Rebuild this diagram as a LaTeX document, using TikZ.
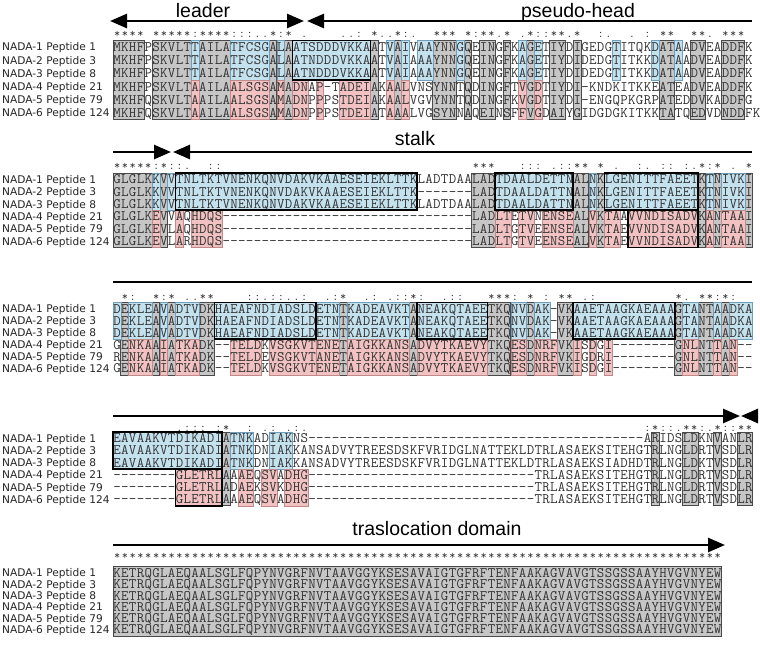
\documentclass[tikz,border=0pt]{standalone}
\usepackage{fontspec}
\usetikzlibrary{arrows.meta}
\newfontfamily\namefont{DejaVu Sans}
\newfontfamily\headfont{Liberation Sans}
\definecolor{gfill}{HTML}{C6C6C6}
\definecolor{gline}{HTML}{4A4A4A}
\definecolor{bfill}{HTML}{C4E1EE}
\definecolor{bline}{HTML}{6E9EBB}
\definecolor{pfill}{HTML}{F2C2C2}
\definecolor{pline}{HTML}{C08A8A}
\definecolor{seqcol}{HTML}{333333}
\makeatletter
\def\sq@x{x}
\newcommand\seqrow[1]{\@tfor\sq@c:=#1\do{\ifx\sq@c\sq@x\hbox to 7.8pt{}\else\hbox to 7.8pt{\hss\sq@c\hss}\fi}}
\makeatother
\newcommand\setblock[3]{\def\yT{#1}\def\yM{#2}\def\yB{#3}}
\newcommand\mkbox[5]{\path[#1] ({113+7.8*(#2)},#4) rectangle ({113+7.8*(#3+1)},#5);}
\newcommand\Gx[2]{\mkbox{gbox}{#1}{#2}{\yT}{\yB}}
\newcommand\Bx[2]{\mkbox{bbox}{#1}{#2}{\yT}{\yM}}
\newcommand\Px[2]{\mkbox{pbox}{#1}{#2}{\yM}{\yB}}
\newcommand\TBx[2]{\mkbox{tbbox}{#1}{#2}{\yT}{\yM}}
\newcommand\TPx[2]{\mkbox{tpbox}{#1}{#2}{\yM}{\yB}}
\newcommand\arow[4]{%
  \node[nm] (l#1) at (2,{#2+3.9}) {#3};
  \node[sq] (s#1) at (113,{#2+4.4}) {\seqrow{#4}};}
\newcommand\strow[2]{\node[st] (c#1) at (113,{#2+4}) {\seqrow{#1x}};}
\tikzset{
  gbox/.style={fill=gfill,draw=gline,line width=0.8pt},
  bbox/.style={fill=bfill,draw=bline,line width=0.6pt},
  pbox/.style={fill=pfill,draw=pline,line width=0.6pt},
  tbbox/.style={fill=bfill,draw=black,line width=1.8pt},
  tpbox/.style={fill=pfill,draw=black,line width=1.8pt},
  nm/.style={anchor=base west,inner sep=0pt,text=black!85,text height=7.5pt,text depth=0pt,font=\namefont\fontsize{10.6}{12}\selectfont},
  sq/.style={anchor=base west,inner sep=0pt,text=seqcol,text height=8.5pt,text depth=0pt,font=\ttfamily\fontsize{14.5}{15}\selectfont},
  st/.style={anchor=base west,inner sep=0pt,text=seqcol,text height=6pt,text depth=0pt,font=\ttfamily\fontsize{12}{13}\selectfont},
  hd/.style={anchor=base,inner sep=0pt,font=\headfont\fontsize{19.5}{21}\selectfont},
  hline/.style={line width=2.6pt},
  tri/.tip={Triangle[length=17pt,width=14pt]}
}
\begin{document}
\begin{tikzpicture}[x=1pt,y=-1pt]
\fill[white] (0,0) rectangle (760,646);
\useasboundingbox (0,0) rectangle (760,646);

% ---------------- headers and arrows
\node[hd] (leader) at (203,17.5) {leader};
\node[hd] (phead) at (578,17.5) {pseudo-head};
\coordinate (a1) at (110,21); \coordinate (a2) at (304,21);
\coordinate (a3) at (307,21); \coordinate (a4) at (752,21);
\draw[hline,tri-tri] (a1) -- (a2);
\draw[hline,tri-] (a3) -- (a4);

\node[hd] (stalk) at (415,145) {stalk};
\coordinate (b1) at (113,152); \coordinate (b2) at (171,152);
\coordinate (b3) at (173,152); \coordinate (b4) at (752,152);
\draw[hline,-tri] (b1) -- (b2);
\draw[hline,tri-] (b3) -- (b4);

\coordinate (c1) at (113,282); \coordinate (c2) at (752,282);
\draw[hline] (c1) -- (c2);

\coordinate (d1) at (113,416); \coordinate (d2) at (740,416);
\coordinate (d3) at (758,416); \coordinate (d4) at (741,416);
\draw[hline,-tri] (d1) -- (d2);
\draw[hline,-tri] (d3) -- (d4);

\node[hd] (trans) at (437,535) {traslocation domain};
\coordinate (e1) at (113,545); \coordinate (e2) at (725,545);
\draw[hline,-tri] (e1) -- (e2);

% ---------------- block 1
\setblock{40.5}{80}{119.5}
\Gx{0}{3}\Gx{5}{9}\Gx{11}{14}\Gx{20}{20}\Gx{22}{22}\Gx{33}{33}\Gx{36}{36}\Gx{41}{43}\Gx{45}{45}\Gx{47}{48}\Gx{50}{50}\Gx{53}{53}\Gx{56}{57}\Gx{59}{59}\Gx{70}{71}\Gx{74}{75}\Gx{78}{80}
\Bx{10}{10}\Bx{15}{19}\Bx{21}{21}\Bx{35}{35}\Bx{37}{37}\Bx{39}{40}\Bx{44}{44}\Bx{52}{52}\Bx{54}{54}\Bx{64}{64}\Bx{69}{69}\Bx{72}{72}
\Px{10}{10}\Px{15}{19}\Px{21}{21}\Px{23}{24}\Px{26}{26}\Px{29}{32}\Px{35}{35}\Px{37}{37}\Px{52}{52}\Px{54}{54}
\TBx{23}{32}
\strow{****x*****:****:::..*:*x.xxxx..:x*..*:.xx***x*:**.*x.*::**.*xx:.xx.x:x**xx**.x***}{33}
\arow{11}{47}{NADA-1 Peptide 1}{MKHFPSKVLTTAILATFCSGALAATSDDDVKKAATVAIVAAYNNGQEINGFKAGETIYDIGEDGTITQKDATAADVEADDFK}
\arow{12}{60.2}{NADA-2 Peptide 3}{MKHFPSKVLTTAILATFCSGALAATNDDDVKKAATVAIAAAYNNGQEINGFKAGETIYDIDEDGTITKKDATAADVEADDFK}
\arow{13}{73.4}{NADA-3 Peptide 8}{MKHFPSKVLTTAILATFCSGALAATNDDDVKKAATVAIAAAYNNGQEINGFKAGETIYDIDEDGTITKKDATAADVEADDFK}
\arow{14}{86.6}{NADA-4 Peptide 21}{MKHFPSKVLTAAILAALSGSAMADNAP-TADEIAKAALVNSYNNTQDINGFTVGDTIYDI-KNDKITKKEATEADVEADDFK}
\arow{15}{99.8}{NADA-5 Peptide 79}{MKHFQSKVLTAAILAALSGSAMADNPPPSTDEIAKAALVGVYNNTQDINGFKVGDTIYDI-ENGQPKGRPATEDDVKADDFG}
\arow{16}{113}{NADA-6 Peptide 124}{MKHFQSKVLTAAILAALSGSAMADNPPPSTDEIATAAALVGSYNNAQEINSFFVGDAIYGIDGDGKITKKTATQEDVDNDDFK}

% ---------------- block 2
\setblock{173}{210.3}{247.5}
\Gx{0}{4}\Gx{6}{6}\Gx{46}{48}\Gx{59}{60}\Gx{62}{62}\Gx{75}{75}\Gx{77}{77}\Gx{81}{81}
\Bx{5}{5}\Bx{7}{7}\Bx{61}{61}\Bx{76}{76}\Bx{78}{80}
\Px{5}{5}\Px{8}{8}\Px{10}{13}\Px{49}{50}\Px{52}{53}\Px{55}{58}\Px{61}{61}\Px{63}{64}\Px{76}{76}\Px{78}{80}
\TBx{8}{38}\TBx{49}{58}\TBx{63}{74}\TPx{66}{74}
\strow{*****:*::.xx::xxxxxxxxxxxxxxxxxxxxxxxxxxxxxxxx***xxx:::x.::**x*x.xx:.x::x:.*:*x.x*}{165}
\arow{21}{179.3}{NADA-1 Peptide 1}{GLGLKKVVTNLTKTVNENKQNVDAKVKAAESEIEKLTTKLADTDAALADTDAALDETTNALNKLGENITTFAEETKTNIVKI}
\arow{22}{191.7}{NADA-2 Peptide 3}{GLGLKKVVTNLTKTVNENKQNVDAKVKAAESEIEKLTTK-------LADTDAALDATTNALNKLGENITTFAEETKTNIVKI}
\arow{23}{204.1}{NADA-3 Peptide 8}{GLGLKKVVTNLTKTVNENKQNVDAKVKAAESEIEKLTTKLADTDAALADTDAALDATTNALNKLGENITTFAEETKTNIVKI}
\arow{24}{216.5}{NADA-4 Peptide 21}{GLGLKEVVAQHDQS--------------------------------LADLTETVNENSEALVKTAAVVNDISADVKANTAAI}
\arow{25}{228.9}{NADA-5 Peptide 79}{GLGLKEVLAQHDQS--------------------------------LADLTGTVEENSEALVKTAEVVNDISADVKANTAAI}
\arow{26}{241.3}{NADA-6 Peptide 124}{GLGLKEVLARHDQS--------------------------------LADLTGTVEENSEALVKTAEVVNDISADVKANTAAI}

% ---------------- block 3
\setblock{302.5}{338.8}{375}
\Gx{1}{1}\Gx{5}{5}\Gx{7}{7}\Gx{11}{12}\Gx{29}{29}\Gx{38}{38}\Gx{48}{50}\Gx{53}{53}\Gx{57}{58}\Gx{72}{72}\Gx{75}{76}\Gx{78}{78}
\Bx{0}{0}\Bx{2}{4}\Bx{6}{6}\Bx{8}{10}\Bx{26}{28}\Bx{30}{37}\Bx{51}{52}\Bx{54}{55}\Bx{73}{74}\Bx{77}{77}\Bx{79}{81}
\Px{2}{4}\Px{6}{6}\Px{8}{10}\Px{15}{18}\Px{20}{25}\Px{26}{28}\Px{30}{37}\Px{39}{47}\Px{51}{52}\Px{54}{56}\Px{59}{59}\Px{61}{61}\Px{63}{63}\Px{73}{74}\Px{77}{77}\Px{79}{79}
\TBx{13}{25}\TBx{39}{47}\TBx{59}{71}
\strow{x*:xx*:*x..**xxxx::.::..:xx.:*xx.:x.::*:xx.::xxx***:x*x:x**x.:xxxxxxxxxx*.x**:*:x}{296}
\arow{31}{309}{NADA-1 Peptide 1}{DEKLEAVADTVDKHAEAFNDIADSLDETNTKADEAVKTANEAKQTAEETKQNVDAK-VKAAETAAGKAEAAAGTANTAADKA}
\arow{32}{320.9}{NADA-2 Peptide 3}{DEKLEAVADTVDKHAEAFNDIADSLDETNTKADEAVKTANEAKQTAEETKQNVDAK-VKAAETAAGKAEAAAGTANTAADKA}
\arow{33}{332.8}{NADA-3 Peptide 8}{DEKLEAVADTVDKHAEAFNDIADSLDETNTKADEAVKTANEAKQTAEETKQNVDAK-VKAAETAAGKAEAAAGTANTAADKA}
\arow{34}{344.7}{NADA-4 Peptide 21}{GENKAAIATKADK--TELDKVSGKVTENETAIGKKANSADVYTKAEVYTKQESDNRFVKISDGI--------GNLNTTAN--}
\arow{35}{356.6}{NADA-5 Peptide 79}{RENKAAIATKADK--TELDEVSGKVTANETAIGKKANSADVYTKAEVYTKQESDNRFVKIGDRI--------GNLNTTAN--}
\arow{36}{368.5}{NADA-6 Peptide 124}{GENKAAIATKADK--TELDKVSGKVTENETAIGKKANSADVYTKAEVYTKQESDNRFVKISDGI--------GNLNTTAN--}

% ---------------- block 4
\setblock{432}{468.8}{505.8}
\Gx{14}{14}\Gx{69}{69}\Gx{73}{74}\Gx{77}{77}\Gx{80}{81}
\Bx{15}{17}\Bx{20}{22}
\Px{16}{17}\Px{19}{20}\Px{22}{24}
\TBx{0}{13}\TPx{8}{13}
\strow{xxxxxxxx.:::x:*xx:x.:x.:.xxxxxxxxxxxxxxxxxxxxxxxxxxxxxxxxxxxxxxxxxxx:*::.**:.*::**}{427}
\arow{41}{438.3}{NADA-1 Peptide 1}{EAVAAKVTDIKADIATNKADIAKNS-------------------------------------------ARIDSLDKNVANLR}
\arow{42}{450.5}{NADA-2 Peptide 3}{EAVAAKVTDIKADIATNKDNIAKKANSADVYTREESDSKFVRIDGLNATTEKLDTRLASAEKSITEHGTRLNGLDRTVSDLR}
\arow{43}{462.7}{NADA-3 Peptide 8}{EAVAAKVTDIKADIATNKDNIAKKANSADVYTREESDSKFVRIDGLNATTEKLDTRLASAEKSIADHDTRLNGLDKTVSDLR}
\arow{44}{474.9}{NADA-4 Peptide 21}{--------GLETRLAAAEQSVADHG-----------------------------TRLASAEKSITEHGTRLNGLDRTVSDLR}
\arow{45}{487.1}{NADA-5 Peptide 79}{--------GLETRLADAEKSVKDHG-----------------------------TRLASAEKSITEHGTRLNGLDRTVSDLR}
\arow{46}{499.3}{NADA-6 Peptide 124}{--------GLETRLAAAEQSVADHG-----------------------------TRLASAEKSITEHGTRLNGLDRTVSDLR}

% ---------------- block 5
\setblock{566.5}{600}{636.5}
\Gx{0}{77}
\strow{******************************************************************************}{555}
\arow{51}{573}{NADA-1 Peptide 1}{KETRQGLAEQAALSGLFQPYNVGRFNVTAAVGGYKSESAVAIGTGFRFTENFAAKAGVAVGTSSGSSAAYHVGVNYEW}
\arow{52}{584.3}{NADA-2 Peptide 3}{KETRQGLAEQAALSGLFQPYNVGRFNVTAAVGGYKSESAVAIGTGFRFTENFAAKAGVAVGTSSGSSAAYHVGVNYEW}
\arow{53}{595.6}{NADA-3 Peptide 8}{KETRQGLAEQAALSGLFQPYNVGRFNVTAAVGGYKSESAVAIGTGFRFTENFAAKAGVAVGTSSGSSAAYHVGVNYEW}
\arow{54}{606.9}{NADA-4 Peptide 21}{KETRQGLAEQAALSGLFQPYNVGRFNVTAAVGGYKSESAVAIGTGFRFTENFAAKAGVAVGTSSGSSAAYHVGVNYEW}
\arow{55}{618.2}{NADA-5 Peptide 79}{KETRQGLAEQAALSGLFQPYNVGRFNVTAAVGGYKSESAVAIGTGFRFTENFAAKAGVAVGTSSGSSAAYHVGVNYEW}
\arow{56}{629.5}{NADA-6 Peptide 124}{KETRQGLAEQAALSGLFQPYNVGRFNVTAAVGGYKSESAVAIGTGFRFTENFAAKAGVAVGTSSGSSAAYHVGVNYEW}
\end{tikzpicture}
\end{document}
